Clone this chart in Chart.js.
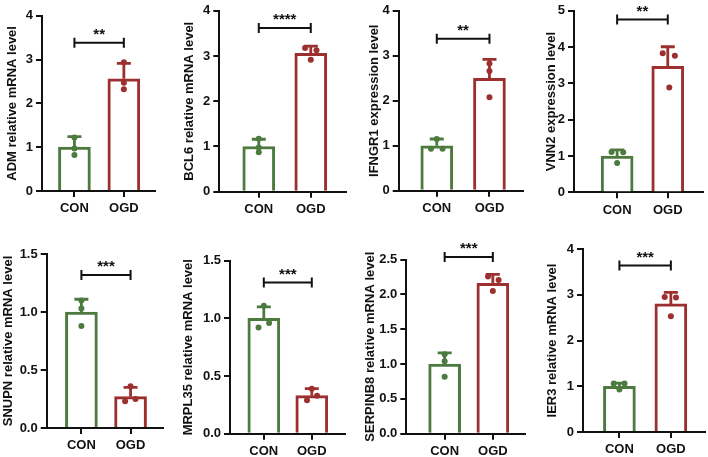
<!DOCTYPE html>
<html>
<head>
<meta charset="utf-8">
<script src="https://cdn.jsdelivr.net/npm/chart.js@4.4.1/dist/chart.umd.min.js"></script>
<style>
  body { margin: 0; background: #fff; width: 708px; height: 457px; position: relative; overflow: hidden; }
  canvas { position: absolute; }
</style>
</head>
<body>
<script>
const groups = ['CON', 'OGD'];
const yTitles = [
  'ADM relative mRNA level', 'BCL6 relative mRNA level', 'IFNGR1 expression level', 'VNN2 expression level',
  'SNUPN relative mRNA level', 'MRPL35 relative mRNA level', 'SERPINB8 relative mRNA level', 'IER3 relative mRNA level'
];
// bar heights (mean) and upper error (SD), [CON, OGD]
const means = [[1.0, 2.56], [1.0, 3.06], [1.0, 2.5], [1.0, 3.47], [1.0, 0.27], [1.0, 0.33], [1.0, 2.16], [1.0, 2.8]];
const sds = [[0.24, 0.35], [0.16, 0.16], [0.15, 0.42], [0.17, 0.54], [0.11, 0.08], [0.10, 0.06], [0.16, 0.13], [0.07, 0.25]];
// individual replicates
const conPoints = [[1.22, 0.97, 0.82], [1.17, 0.98, 0.87], [1.15, 0.93, 0.93], [1.11, 1.10, 0.81],
  [1.10, 1.03, 0.88], [1.11, 0.92, 0.96], [1.14, 1.04, 0.82], [1.06, 1.06, 0.93]];
const ogdPoints = [[2.94, 2.47, 2.32], [3.18, 3.13, 2.92], [2.83, 2.66, 2.08], [3.83, 3.76, 2.89],
  [0.36, 0.23, 0.25], [0.39, 0.29, 0.33], [2.26, 2.21, 2.05], [2.95, 2.94, 2.53]];
// horizontal scatter of replicates, in category units
const conJitter = [[0, 0, 0], [0, 0, 0], [0, -0.11, 0.11], [-0.11, 0.12, 0],
  [0, 0, 0], [0, -0.11, 0.11], [0, 0, 0], [-0.11, 0.1, 0]];
const ogdJitter = [[0, 0, 0], [-0.11, 0.11, 0], [0, 0, 0], [-0.1, 0.14, 0.03],
  [0, -0.11, 0.1], [0, -0.1, 0.11], [-0.1, 0.12, 0], [-0.12, 0.1, 0]];
const yMax = [4, 4, 4, 5, 1.5, 1.5, 2.5, 4];
const yStep = [1, 1, 1, 1, 0.5, 0.5, 0.5, 1];
const yDecimals = [0, 0, 0, 0, 1, 1, 1, 0];
const stars = ['**', '****', '**', '**', '***', '***', '***', '***'];
const bracketY = [3.38, 3.62, 3.38, 4.76, 1.32, 1.31, 2.54, 3.64];

const colors = ['#4d7b3f', '#9c2f2f'];
const FONT = '"Liberation Sans", Arial, sans-serif';
const ink = '#111';

// page layout of each panel (pixels)
const panels = [
  { titleX: 12.5, axisX: 42, rightX: 157, rowTop: 0, h: 228, topY: 15.7, zeroY: 191, conX: 75, ogdX: 125.3 },
  { titleX: 189.7, axisX: 219.3, rightX: 347.7, rowTop: 0, h: 228, topY: 7.3, zeroY: 191.7, conX: 259.3, ogdX: 312 },
  { titleX: 375, axisX: 398.7, rightX: 524.7, rowTop: 0, h: 228, topY: 8.3, zeroY: 190.7, conX: 437.3, ogdX: 490.7 },
  { titleX: 552, axisX: 574, rightX: 704.7, rowTop: 0, h: 228, topY: 6.7, zeroY: 192.3, conX: 617.7, ogdX: 669 },
  { titleX: 9.3, axisX: 46.7, rightX: 165, rowTop: 228, h: 229, topY: 254, zeroY: 428, conX: 82, ogdX: 132 },
  { titleX: 188.7, axisX: 230, rightX: 346.7, rowTop: 228, h: 229, topY: 260.7, zeroY: 433.7, conX: 264.3, ogdX: 313 },
  { titleX: 371.3, axisX: 406.3, rightX: 527, rowTop: 228, h: 229, topY: 259.7, zeroY: 433.7, conX: 445.3, ogdX: 494.3 },
  { titleX: 553, axisX: 583, rightX: 707, rowTop: 228, h: 229, topY: 249, zeroY: 432, conX: 620, ogdX: 672.3 }
];
const xAxisH = 30;

const annotate = {
  id: 'annotate',
  afterDatasetDraw(chart, args) {
    if (args.index !== 0) return;
    const i = chart.options.plugins.annotate.panel;
    const { x, y } = chart.scales;
    const ctx = chart.ctx;
    ctx.save();
    ctx.lineWidth = 2.8;
    means[i].forEach((m, g) => {
      const px = x.getPixelForValue(g);
      const y0 = y.getPixelForValue(m);
      const y1 = y.getPixelForValue(m + sds[i][g]);
      ctx.strokeStyle = colors[g];
      ctx.beginPath();
      ctx.moveTo(px, y0); ctx.lineTo(px, y1);
      ctx.moveTo(px - 7, y1); ctx.lineTo(px + 7, y1);
      ctx.stroke();
    });
    ctx.restore();
  },
  afterDraw(chart) {
    const i = chart.options.plugins.annotate.panel;
    const { x, y } = chart.scales;
    const ctx = chart.ctx;
    const x0 = x.getPixelForValue(0), x1 = x.getPixelForValue(1);
    const by = y.getPixelForValue(bracketY[i]);
    ctx.save();
    ctx.strokeStyle = ink;
    ctx.lineWidth = 2;
    ctx.beginPath();
    ctx.moveTo(x0, by - 5); ctx.lineTo(x0, by + 5);
    ctx.moveTo(x1, by - 5); ctx.lineTo(x1, by + 5);
    ctx.moveTo(x0, by); ctx.lineTo(x1, by);
    ctx.stroke();
    ctx.fillStyle = ink;
    ctx.font = 'bold 15px ' + FONT;
    ctx.textAlign = 'center';
    ctx.textBaseline = 'middle';
    ctx.fillText(stars[i], (x0 + x1) / 2, by - 8);
    ctx.restore();
  }
};

panels.forEach((p, i) => {
  const left = Math.round(p.titleX - 8);
  const width = Math.ceil(p.rightX - left + 2);
  const cv = document.createElement('canvas');
  cv.width = width; cv.height = p.h;
  cv.style.left = left + 'px'; cv.style.top = p.rowTop + 'px';
  document.body.appendChild(cv);

  const unit = p.ogdX - p.conX;
  const xMin = -(p.conX - p.axisX) / unit;
  const xMax = 1 + (p.rightX - p.ogdX) / unit;
  const yW = p.axisX - left;

  const points = conPoints[i].map((v, k) => ({ x: conJitter[i][k], y: v }))
    .concat(ogdPoints[i].map((v, k) => ({ x: 1 + ogdJitter[i][k], y: v })));
  const pointColors = conPoints[i].map(() => colors[0]).concat(ogdPoints[i].map(() => colors[1]));

  new Chart(cv.getContext('2d'), {
    data: {
      datasets: [
        {
          type: 'bar',
          data: means[i].map((m, g) => ({ x: g, y: m })),
          backgroundColor: '#fff',
          borderColor: colors,
          borderWidth: 3,
          barThickness: 32,
          order: 2
        },
        {
          type: 'scatter',
          data: points,
          backgroundColor: pointColors,
          borderWidth: 0,
          pointRadius: 3,
          order: 1
        }
      ]
    },
    options: {
      responsive: false,
      animation: false,
      devicePixelRatio: 1,
      layout: {
        padding: {
          left: 0,
          top: p.topY - p.rowTop,
          right: width - (p.rightX - left),
          bottom: p.h - (p.zeroY - p.rowTop) - xAxisH
        }
      },
      plugins: {
        legend: { display: false },
        tooltip: { enabled: false },
        annotate: { panel: i }
      },
      scales: {
        x: {
          type: 'linear',
          min: xMin,
          max: xMax,
          offset: false,
          afterBuildTicks: s => { s.ticks = [{ value: 0 }, { value: 1 }]; },
          afterFit: s => { s.height = xAxisH; },
          ticks: {
            callback: v => groups[v],
            autoSkip: false,
            maxRotation: 0,
            padding: 4,
            color: ink,
            font: { family: FONT, size: 13, weight: 'bold' }
          },
          grid: { offset: false, drawOnChartArea: false, tickLength: 6, color: ink, lineWidth: 2 },
          border: { color: ink, width: 2 }
        },
        y: {
          min: 0,
          max: yMax[i],
          afterFit: s => { s.width = yW; },
          ticks: {
            stepSize: yStep[i],
            callback: v => v.toFixed(yDecimals[i]),
            padding: 3,
            color: ink,
            font: { family: FONT, size: 13, weight: 'bold' }
          },
          grid: { drawOnChartArea: false, tickLength: 6, color: ink, lineWidth: 2 },
          border: { color: ink, width: 2 },
          title: {
            display: true,
            text: yTitles[i],
            color: ink,
            padding: 0,
            font: { family: FONT, size: 13, weight: 'bold' }
          }
        }
      }
    },
    plugins: [annotate]
  });
});
</script>
</body>
</html>
